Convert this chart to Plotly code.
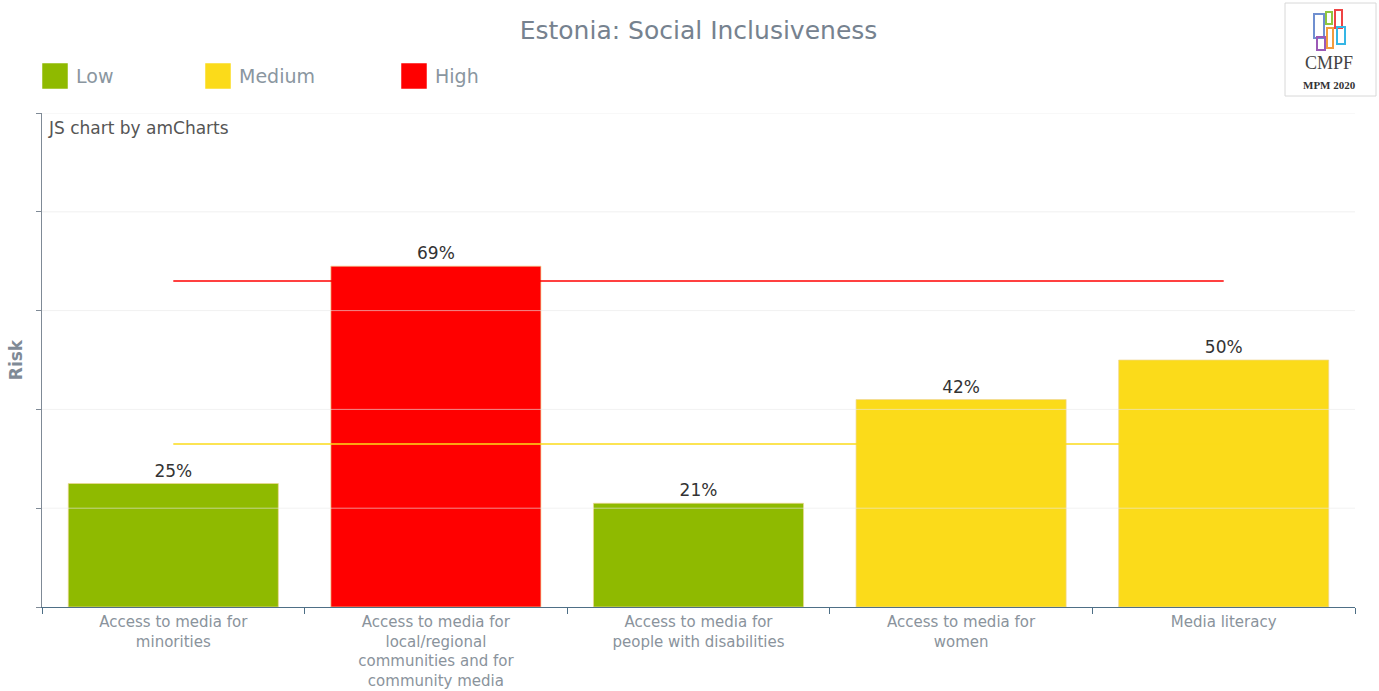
import plotly.graph_objects as go

# Indicator scores (percent risk) for Estonia, social inclusiveness area
categories = [
    "Access to media for<br>minorities",
    "Access to media for<br>local/regional<br>communities and for<br>community media",
    "Access to media for<br>people with disabilities",
    "Access to media for<br>women",
    "Media literacy",
]
risk_values = [25, 69, 21, 42, 50]
risk_levels = ["Low", "High", "Low", "Medium", "Medium"]

level_names = ["Low", "Medium", "High"]
level_colors = {"Low": "#8fba00", "Medium": "#fbdb1a", "High": "#ff0000"}

# Band thresholds between low/medium and medium/high
medium_threshold = 33
high_threshold = 66

y_ticks = [0, 20, 40, 60, 80, 100]

FONT = "DejaVu Sans, Verdana, sans-serif"

# Plot area in pixels: left 42, right 1355, top 113, bottom 607
def px_x(v):
    return (v - 42) / 1313


def px_y(v):
    return (607 - v) / 494


fig = go.Figure()

# Threshold lines, drawn first so the bars sit on top of them
fig.add_trace(go.Scatter(
    x=[categories[0], categories[-1]], y=[high_threshold, high_threshold],
    mode="lines", line=dict(color="#ff0000", width=1.5),
    hoverinfo="skip", showlegend=False,
))
fig.add_trace(go.Scatter(
    x=[categories[0], categories[-1]], y=[medium_threshold, medium_threshold],
    mode="lines", line=dict(color="#fbdb1a", width=1.5),
    hoverinfo="skip", showlegend=False,
))

fig.add_trace(go.Bar(
    x=categories,
    y=risk_values,
    marker=dict(
        color=[level_colors[l] for l in risk_levels],
        line=dict(color="rgba(240,215,150,0.7)", width=1),
    ),
    width=0.8,
    text=[f"{v}%" for v in risk_values],
    textposition="outside",
    textfont=dict(family=FONT, size=17, color="#333333"),
    cliponaxis=False,
    showlegend=False,
))

shapes = []
annotations = []

# Faint gridlines laid over the bars
for t in y_ticks[1:]:
    shapes.append(dict(type="line", xref="paper", yref="y", x0=0, x1=1, y0=t, y1=t,
                       line=dict(color="rgba(232,232,232,0.6)", width=1), layer="above"))

# Custom legend with large square swatches
legend_x = [42, 205, 401]
for name, px in zip(level_names, legend_x):
    shapes.append(dict(type="rect", xref="paper", yref="paper",
                       x0=px_x(px), x1=px_x(px + 26),
                       y0=px_y(89), y1=px_y(63),
                       fillcolor=level_colors[name],
                       line=dict(color="rgba(255,255,255,0.5)", width=1)))
    annotations.append(dict(text=name, xref="paper", yref="paper",
                            x=px_x(px + 32), y=px_y(76),
                            xanchor="left", yanchor="middle", showarrow=False,
                            font=dict(family=FONT, size=19, color="#8a96a0")))

# Logo box at the top right
shapes.append(dict(type="rect", xref="paper", yref="paper",
                   x0=px_x(1285), x1=px_x(1376), y0=px_y(96), y1=px_y(3),
                   fillcolor="white", line=dict(color="#d8d8d8", width=1)))
logo_blocks = [
    (1314, 1324, 14, 38, "#6f8fd0"),
    (1326, 1332, 12, 24, "#8fc63f"),
    (1335, 1342, 10, 28, "#ee4444"),
    (1317, 1325, 37, 50, "#9b59b6"),
    (1327, 1333, 28, 48, "#f39c3c"),
    (1337, 1345, 27, 44, "#35b6e5"),
]
for x0, x1, y0, y1, c in logo_blocks:
    shapes.append(dict(type="rect", xref="paper", yref="paper",
                       x0=px_x(x0), x1=px_x(x1), y0=px_y(y1), y1=px_y(y0),
                       fillcolor="rgba(255,255,255,0)", line=dict(color=c, width=2)))
annotations.append(dict(text="CMPF", xref="paper", yref="paper",
                        x=px_x(1329), y=px_y(63), xanchor="center", yanchor="middle",
                        showarrow=False,
                        font=dict(family="Liberation Serif, serif", size=18, color="#444444")))
annotations.append(dict(text="<b>MPM 2020</b>", xref="paper", yref="paper",
                        x=px_x(1329), y=px_y(85), xanchor="center", yanchor="middle",
                        showarrow=False,
                        font=dict(family="Liberation Serif, serif", size=11, color="#333333")))

annotations.append(dict(text="JS chart by amCharts", xref="paper", yref="paper",
                        x=px_x(46), y=px_y(128), xanchor="left", yanchor="middle",
                        showarrow=False, font=dict(family=FONT, size=17, color="#555555")))

fig.update_layout(
    width=1379, height=691,
    margin=dict(l=42, r=24, t=113, b=84),
    paper_bgcolor="white", plot_bgcolor="white",
    title=dict(text="Estonia: Social Inclusiveness", x=0.5, xref="paper", xanchor="center",
               y=1 - 30 / 691, yref="container", yanchor="middle",
               font=dict(family=FONT, size=25, color="#76828f")),
    shapes=shapes,
    annotations=annotations,
    showlegend=False,
    xaxis=dict(
        type="category",
        categoryorder="array", categoryarray=categories,
        showgrid=False,
        showline=True, linecolor="#4e6f86", linewidth=1,
        ticks="outside", tickson="boundaries", ticklen=6, tickcolor="#4e6f86",
        ticklabelstandoff=1,
        tickfont=dict(family=FONT, size=15, color="#8a939c"),
        automargin=False,
    ),
    yaxis=dict(
        range=[0, 100],
        tickvals=y_ticks,
        showticklabels=False,
        showgrid=False,
        zeroline=False,
        showline=True, linecolor="#7f8a96", linewidth=1,
        ticks="outside", ticklen=5, tickcolor="#7f8a96",
        title=dict(text="<b>Risk</b>", standoff=9,
                   font=dict(family=FONT, size=17, color="#7f8a96")),
        automargin=False,
    ),
)

fig.write_html("out.html")
